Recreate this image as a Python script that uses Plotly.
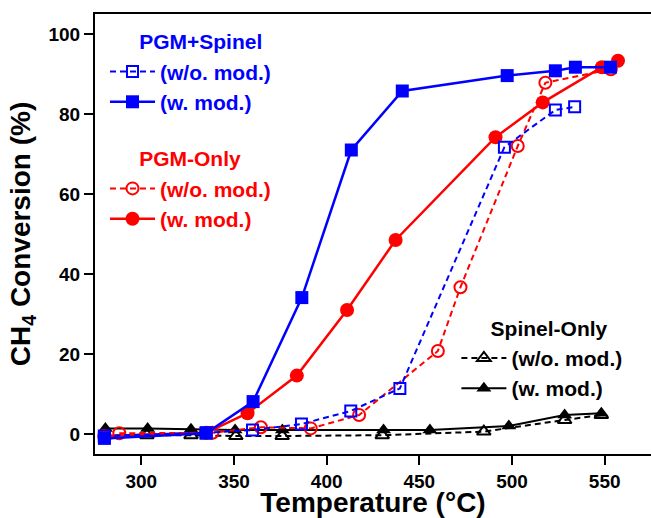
import plotly.graph_objects as go

# ---- data ----
pgm_spinel_wo_T = [280, 335, 360, 386.4, 413, 439.5, 495.9, 523.4, 533.8]
pgm_spinel_wo_X = [-0.5, 0.3, 1.0, 2.5, 5.75, 11.4, 71.7, 81.0, 81.8]

pgm_spinel_w_T = [280.1, 334.9, 360.3, 386.6, 413.3, 440.8, 497.4, 523.4, 534.2, 553.1]
pgm_spinel_w_X = [-1.1, 0.2, 8.1, 34.1, 71.0, 85.75, 89.6, 90.8, 91.7, 91.7]

pgm_only_wo_T = [288.1, 338.4, 364.5, 391.4, 417.5, 460.0, 472.2, 503.1, 518.0, 553.3]
pgm_only_wo_X = [0.2, 0.3, 1.7, 1.4, 4.75, 20.75, 36.7, 72.0, 87.8, 91.2]

pgm_only_w_T = [280, 335, 357.3, 383.9, 411.0, 437.2, 491.1, 516.6, 548.5, 557.2]
pgm_only_w_X = [-0.5, 0.3, 5.2, 14.6, 31.0, 48.5, 74.2, 82.9, 91.7, 93.3]

spinel_wo_T = [280.6, 303.0, 326.8, 351.0, 376.0, 430.0, 484.8, 528.4, 548.2]
spinel_wo_X = [-0.3, -0.3, -0.3, -0.5, -0.5, -0.3, 0.6, 3.5, 4.75]

spinel_w_T = [280.6, 303.4, 326.8, 350.6, 376.1, 430.7, 455.7, 498.3, 528.4, 548.2]
spinel_w_X = [1.4, 1.4, 1.2, 1.0, 1.0, 1.0, 1.0, 2.0, 4.75, 5.2]

x_ticks = [300, 350, 400, 450, 500, 550]
y_ticks = [0, 20, 40, 60, 80, 100]

FONT = "Liberation Sans, Arial, sans-serif"
BLUE = "#0000FF"
RED = "#FF0000"
BLACK = "#000000"
DASH = "6px,4px"
LEG_FS = 21


def name(txt, color):
    return f"<span style='color:{color}'>{txt}</span>"


fig = go.Figure()

# bottom -> top drawing order
fig.add_trace(go.Scatter(
    x=spinel_wo_T, y=spinel_wo_X, mode="lines+markers",
    name=name("(w/o. mod.)", BLACK), legend="legend2", legendgroup="spinel",
    legendgrouptitle=dict(text="\u00a0\u00a0\u00a0\u00a0\u00a0Spinel-Only",
                          font=dict(color=BLACK, size=LEG_FS, family=FONT, weight="bold")),
    legendrank=5,
    line=dict(color=BLACK, width=2, dash=DASH),
    marker=dict(symbol="triangle-up-open", size=12, color=BLACK, line=dict(width=2, color=BLACK)),
))
fig.add_trace(go.Scatter(
    x=spinel_w_T, y=spinel_w_X, mode="lines+markers",
    name=name("(w. mod.)", BLACK), legend="legend2", legendgroup="spinel",
    legendrank=6,
    line=dict(color=BLACK, width=2),
    marker=dict(symbol="triangle-up", size=13, color=BLACK),
))
fig.add_trace(go.Scatter(
    x=pgm_only_wo_T, y=pgm_only_wo_X, mode="lines+markers",
    name=name("(w/o. mod.)", RED), legendgroup="pgm",
    legendgrouptitle=dict(text="\u00a0\u00a0\u00a0\u00a0\u00a0PGM-Only",
                          font=dict(color=RED, size=LEG_FS, family=FONT, weight="bold")),
    legendrank=3,
    line=dict(color=RED, width=2, dash=DASH),
    marker=dict(symbol="circle-open", size=12, color=RED, line=dict(width=2, color=RED)),
))
fig.add_trace(go.Scatter(
    x=pgm_only_w_T, y=pgm_only_w_X, mode="lines+markers",
    name=name("(w. mod.)", RED), legendgroup="pgm",
    legendrank=4,
    line=dict(color=RED, width=2.5),
    marker=dict(symbol="circle", size=14, color=RED),
))
fig.add_trace(go.Scatter(
    x=pgm_spinel_wo_T, y=pgm_spinel_wo_X, mode="lines+markers",
    name=name("(w/o. mod.)", BLUE), legendgroup="pgmsp",
    legendgrouptitle=dict(text="\u00a0\u00a0\u00a0\u00a0\u00a0PGM+Spinel",
                          font=dict(color=BLUE, size=LEG_FS, family=FONT, weight="bold")),
    legendrank=1,
    line=dict(color=BLUE, width=2, dash=DASH),
    marker=dict(symbol="square-open", size=11, color=BLUE, line=dict(width=2, color=BLUE)),
))
fig.add_trace(go.Scatter(
    x=pgm_spinel_w_T, y=pgm_spinel_w_X, mode="lines+markers",
    name=name("(w. mod.)", BLUE), legendgroup="pgmsp",
    legendrank=2,
    line=dict(color=BLUE, width=2.5),
    marker=dict(symbol="square", size=13, color=BLUE),
))

legend_common = dict(
    bgcolor="rgba(0,0,0,0)",
    font=dict(family=FONT, size=LEG_FS, weight="bold", color=BLACK),
    xanchor="left", yanchor="top",
    traceorder="grouped",
    itemwidth=45,
    tracegroupgap=26,
)

fig.update_layout(
    width=651, height=518,
    margin=dict(l=95, r=0, t=14, b=64),
    paper_bgcolor="white", plot_bgcolor="white",
    font=dict(family=FONT, color=BLACK),
    showlegend=True,
    legend=dict(x=0.018, y=0.984, **legend_common),
    legend2=dict(x=0.65, y=0.333, **legend_common),
    xaxis=dict(
        range=[275, 575], tickvals=x_ticks, ticktext=[str(v) for v in x_ticks],
        showgrid=False, zeroline=False, automargin=False,
        showline=True, linecolor=BLACK, linewidth=2, mirror=True,
        ticks="outside", ticklen=9, tickwidth=2, tickcolor=BLACK,
        tickfont=dict(family=FONT, size=19, weight="bold", color=BLACK),
        title=dict(text="Temperature (°C)",
                   font=dict(family=FONT, size=28, weight="bold", color=BLACK),
                   standoff=13),
    ),
    yaxis=dict(
        range=[-5, 105], tickvals=y_ticks, ticktext=[str(v) for v in y_ticks],
        showgrid=False, zeroline=False, automargin=False,
        showline=True, linecolor=BLACK, linewidth=2,
        ticks="outside", ticklen=9, tickwidth=2, tickcolor=BLACK,
        tickfont=dict(family=FONT, size=19, weight="bold", color=BLACK),
        title=dict(text="CH<sub>4</sub> Conversion (%)",
                   font=dict(family=FONT, size=28, weight="bold", color=BLACK),
                   standoff=10),
    ),
)

fig.write_html("out.html")
